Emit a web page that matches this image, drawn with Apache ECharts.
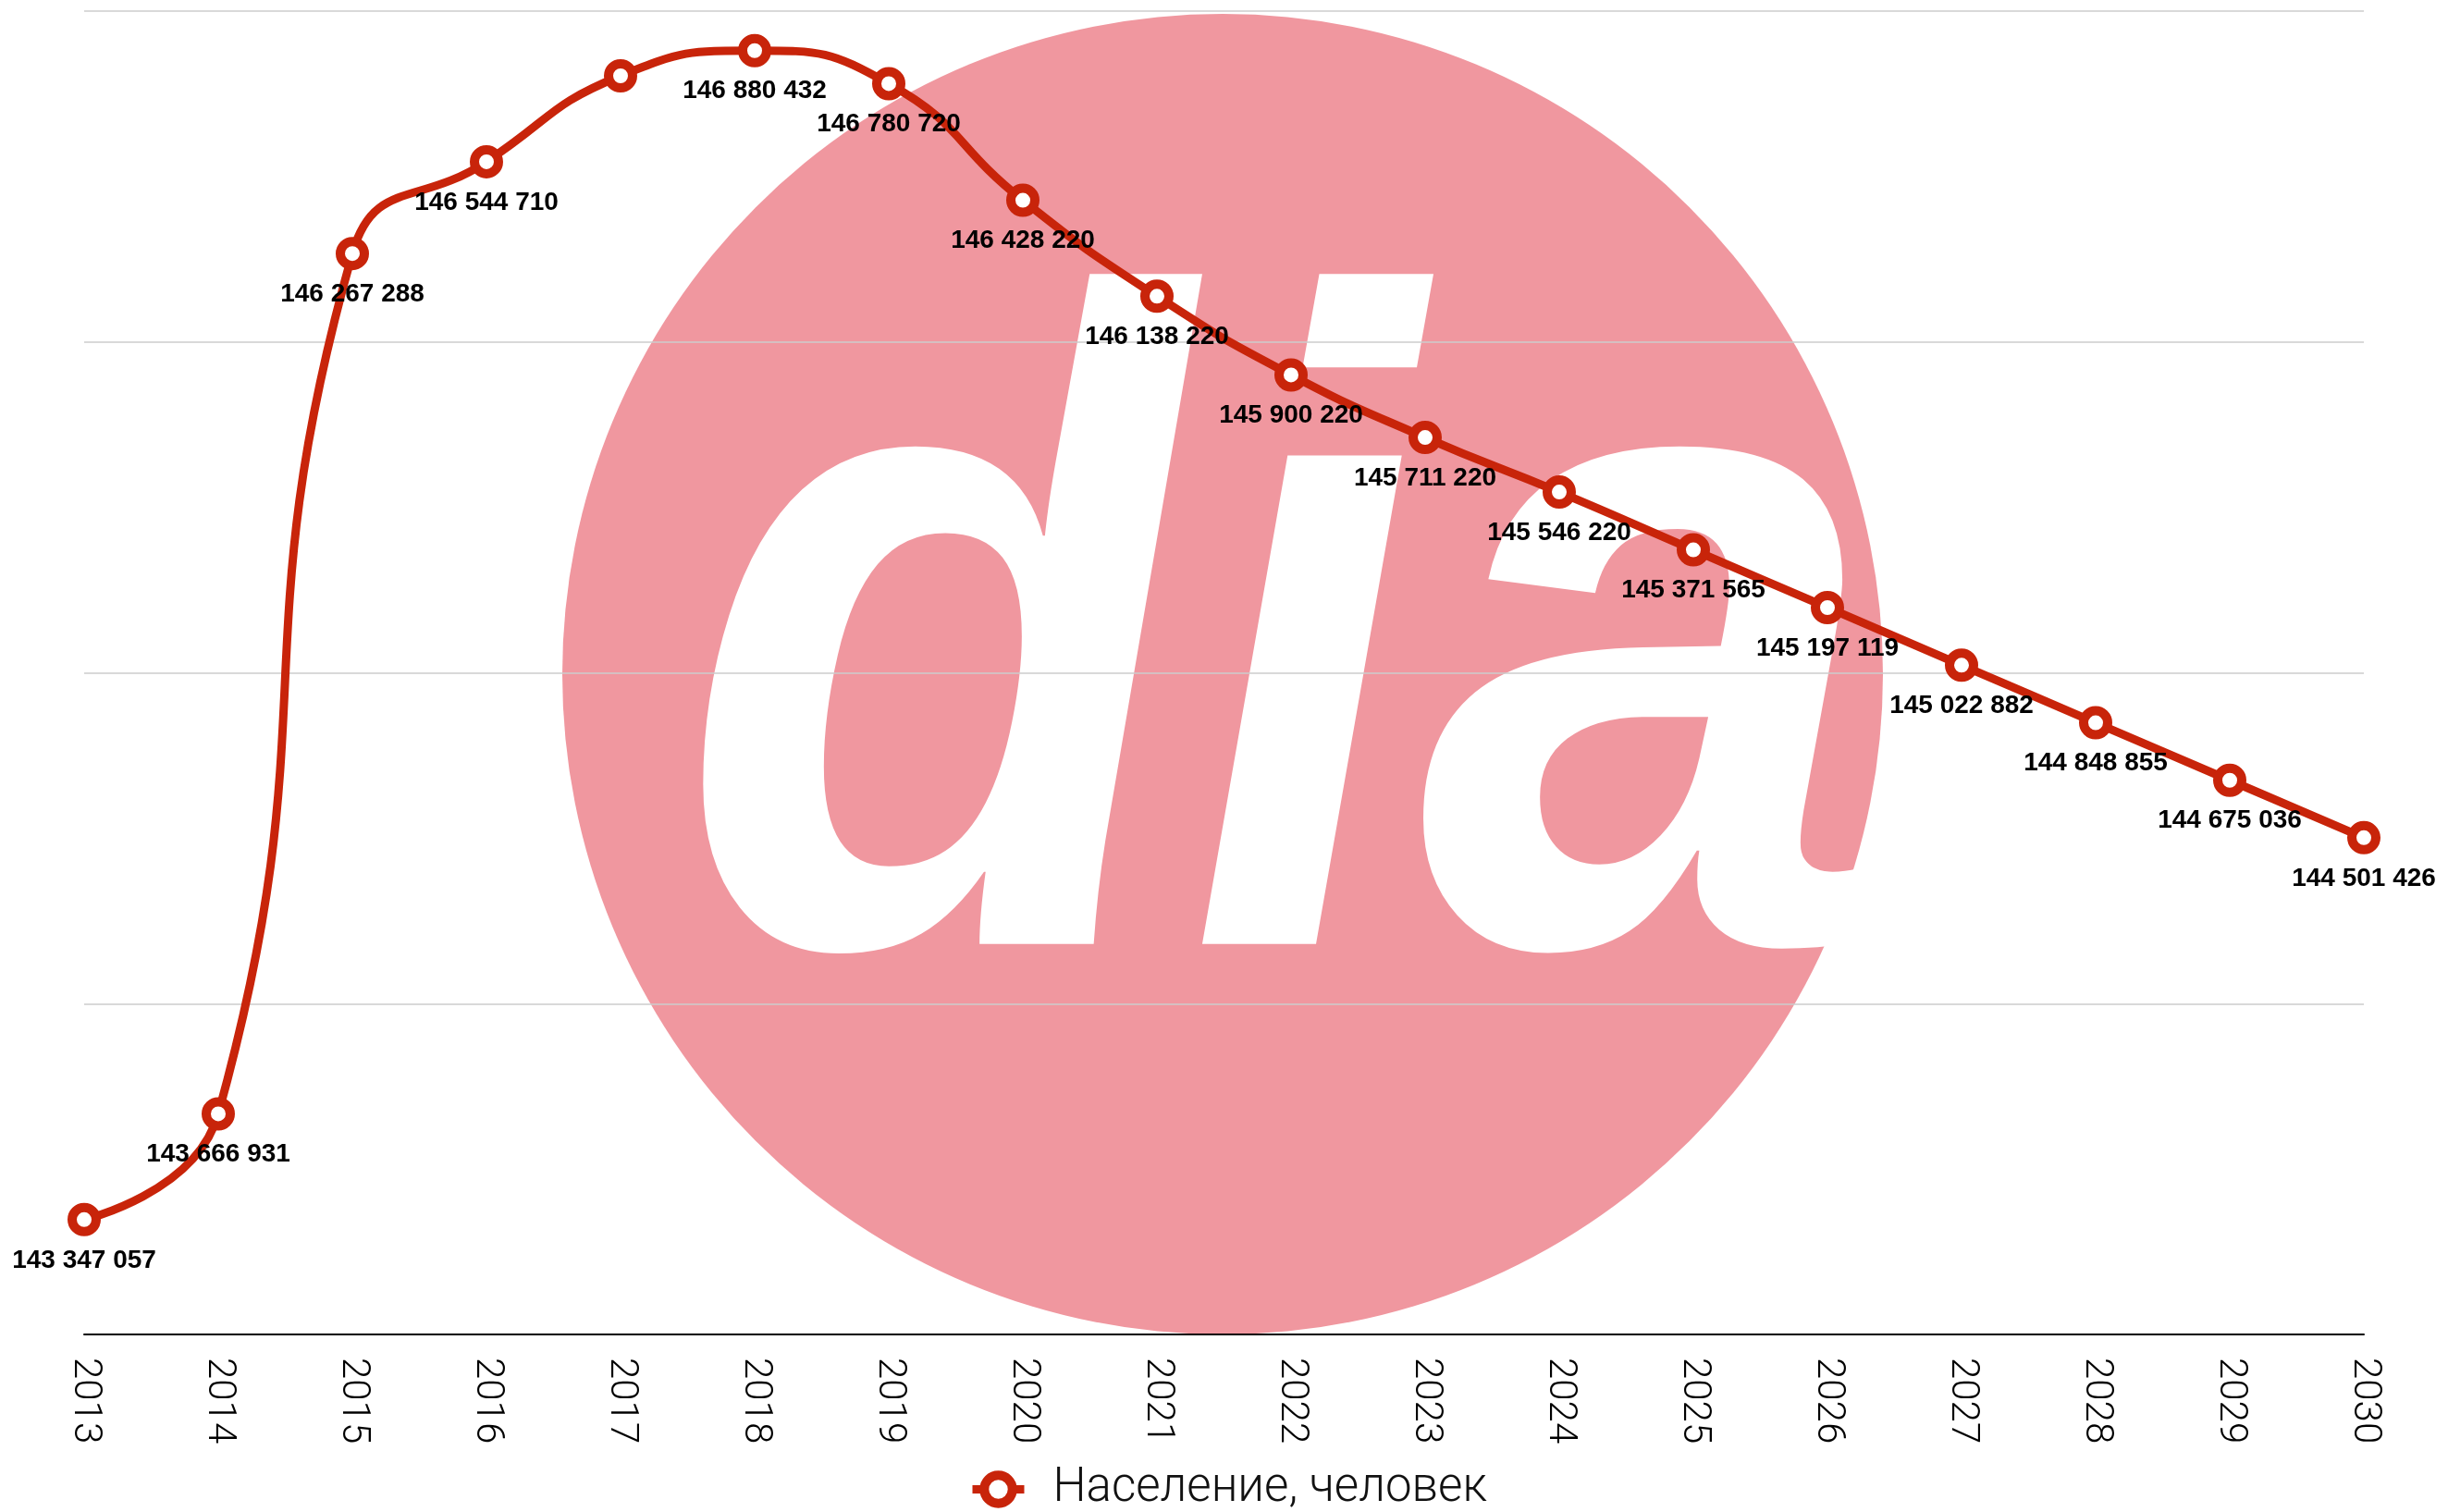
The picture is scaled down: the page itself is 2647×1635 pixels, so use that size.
<!DOCTYPE html>
<html>
<head>
<meta charset="utf-8">
<script src="https://cdn.jsdelivr.net/npm/echarts@6/dist/echarts.min.js"></script>
<style>
  html, body { margin: 0; padding: 0; background: #fff; }
  #chart { width: 2647px; height: 1635px; }
</style>
</head>
<body>
<div id="chart"></div>
<script>
// годы и численность населения
const years = ['2013', '2014', '2015', '2016', '2017', '2018', '2019', '2020', '2021',
  '2022', '2023', '2024', '2025', '2026', '2027', '2028', '2029', '2030'];
const population = [143347057, 143666931, 146267288, 146544710, 146804372, 146880432,
  146780720, 146428220, 146138220, 145900220, 145711220, 145546220, 145371565,
  145197119, 145022882, 144848855, 144675036, 144501426];
const hiddenLabelYears = ['2017'];   // у этой точки подписи нет
const seriesName = 'Население, человек';

const RED = '#c8240a';
const PINK = '#f0979f';

const myChart = echarts.init(document.getElementById('chart'));

// разделитель тысяч — пробел
function fmt(v) {
  return String(v).replace(/\B(?=(\d{3})+(?!\d))/g, ' ');
}

const seriesData = population.map((v, i) => {
  if (hiddenLabelYears.includes(years[i])) {
    return { value: v, label: { show: false } };
  }
  return v;
});

const option = {
  animation: false,
  backgroundColor: '#fff',
  grid: { left: 91, right: 91, top: 12, bottom: 192 },
  graphic: [
    {
      type: 'circle',
      z: -10,
      shape: { cx: 1322, cy: 729, r: 714 },
      style: { fill: PINK }
    },
    {
      type: 'text',
      z: -9,
      x: 1385,
      y: 1245,
      scaleX: 0.9,
      style: {
        text: 'dia',
        fill: '#fff',
        font: 'italic bold 1000px "Liberation Sans"',
        align: 'center',
        verticalAlign: 'bottom'
      }
    }
  ],
  legend: {
    data: [seriesName],
    left: 1042,
    top: 1580,
    itemWidth: 56,
    itemHeight: 38,
    itemStyle: { borderWidth: 10 },
    lineStyle: { width: 9 },
    textStyle: {
      fontFamily: 'Roboto',
      fontWeight: 300,
      fontSize: 51,
      color: '#111',
      padding: [0, 0, 0, 26]
    }
  },
  xAxis: {
    type: 'category',
    data: years,
    boundaryGap: false,
    axisLine: { lineStyle: { color: '#000', width: 2 } },
    axisTick: { show: false },
    axisLabel: {
      rotate: -90,
      margin: 25,
      fontFamily: 'Roboto',
      fontWeight: 300,
      fontSize: 42,
      color: '#000',
      interval: 0
    },
    splitLine: { show: false }
  },
  yAxis: {
    type: 'value',
    min: 143000000,
    max: 147000000,
    interval: 1000000,
    axisLine: { show: false },
    axisTick: { show: false },
    axisLabel: { show: false },
    splitLine: { lineStyle: { color: '#cccccc', width: 1.5 } }
  },
  series: [
    {
      name: seriesName,
      type: 'line',
      data: seriesData,
      smooth: 0.5,
      symbol: 'circle',
      symbolSize: 26,
      lineStyle: { color: RED, width: 9 },
      itemStyle: { color: '#fff', borderColor: RED, borderWidth: 10 },
      label: {
        show: true,
        position: 'bottom',
        distance: 12,
        formatter: p => fmt(p.value),
        fontFamily: 'Liberation Sans',
        fontWeight: 'bold',
        fontSize: 28,
        color: '#000'
      }
    }
  ]
};

myChart.setOption(option);
</script>
</body>
</html>
